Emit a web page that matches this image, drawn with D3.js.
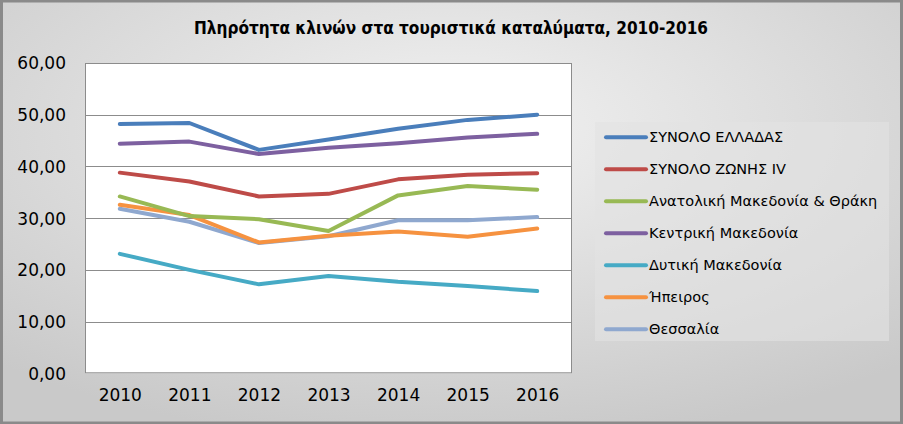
<!DOCTYPE html>
<html><head><meta charset="utf-8">
<script src="https://cdn.jsdelivr.net/npm/d3@7"></script>
<style>html,body{margin:0;padding:0;background:#fff}svg{display:block}</style>
</head><body>
<script>
const years = ["2010","2011","2012","2013","2014","2015","2016"];
const seriesNames = ["ΣΥΝΟΛΟ ΕΛΛΑΔΑΣ","ΣΥΝΟΛΟ ΖΩΝΗΣ IV","Ανατολική Μακεδονία & Θράκη","Κεντρική Μακεδονία","Δυτική Μακεδονία","Ήπειρος","Θεσσαλία"];
const greece   = [48.2, 48.4, 43.2, 45.2, 47.3, 49.0, 50.0];
const zoneIV   = [38.8, 37.1, 34.2, 34.7, 37.5, 38.4, 38.7];
const eastMac  = [34.2, 30.4, 29.8, 27.5, 34.4, 36.2, 35.5];
const centMac  = [44.4, 44.8, 42.4, 43.6, 44.5, 45.6, 46.3];
const westMac  = [23.1, 20.0, 17.2, 18.8, 17.7, 16.9, 15.9];
const epirus   = [32.6, 30.6, 25.3, 26.6, 27.4, 26.4, 28.0];
const thessaly = [31.8, 29.3, 25.2, 26.5, 29.6, 29.6, 30.2];
const yTicks = [0, 10, 20, 30, 40, 50, 60];
const title = "Πληρότητα κλινών στα τουριστικά καταλύματα, 2010-2016";

const seriesValues = [greece, zoneIV, eastMac, centMac, westMac, epirus, thessaly];
const colors = ["#4A7EBB","#BE4B48","#98B954","#7D60A0","#46AAC5","#F69240","#8FA8CF"];
// draw order (later on top)
const drawOrder = [4, 6, 5, 2, 1, 3, 0];

const W = 903, H = 424;
const svg = d3.select("body").append("svg").attr("width", W).attr("height", H);
const defs = svg.append("defs");
const g = defs.append("radialGradient").attr("id","bg").attr("cx","50%").attr("cy","30%").attr("r","75%");
g.append("stop").attr("offset","0%").attr("stop-color","#f2f2f2");
g.append("stop").attr("offset","100%").attr("stop-color","#c9c9c9");

svg.append("rect").attr("x",0).attr("y",0).attr("width",W).attr("height",H).attr("fill","url(#bg)");
svg.append("rect").attr("x",1.5).attr("y",1).attr("width",W-3).attr("height",H-2)
  .attr("fill","none").attr("stroke","#8a8a8a").attr("stroke-width",3);

svg.append("text").attr("x", 451).attr("y", 34).attr("text-anchor","middle")
  .attr("font-family","'DejaVu Sans Condensed','DejaVu Sans',sans-serif")
  .attr("font-weight","bold").attr("font-size",18).attr("fill","#000")
  .attr("textLength",514).attr("lengthAdjust","spacingAndGlyphs").text(title);

const plot = {left: 85, right: 572, top: 63, bottom: 373.3};
const x = d3.scalePoint().domain(years).range([plot.left, plot.right]).padding(0.5);
const y = d3.scaleLinear().domain([0, 60]).range([plot.bottom, plot.top]);

svg.append("rect").attr("x",plot.left).attr("y",plot.top).attr("width",plot.right-plot.left)
  .attr("height",plot.bottom-plot.top).attr("fill","#fff");

const grid = svg.append("g");
grid.selectAll("line").data(yTicks.filter(d => d > 0 && d < 60)).join("line")
  .attr("x1",plot.left).attr("x2",plot.right)
  .attr("y1",d => Math.round(y(d))+0.5).attr("y2",d => Math.round(y(d))+0.5)
  .attr("stroke","#8c8c8c").attr("stroke-width",1);

svg.append("rect").attr("x",plot.left+0.5).attr("y",plot.top+0.5).attr("width",plot.right-plot.left-1)
  .attr("height",plot.bottom-plot.top-1).attr("fill","none").attr("stroke","#8c8c8c").attr("stroke-width",1);

// Y axis
const yAxis = d3.axisLeft(y).tickValues(yTicks).tickSize(0).tickPadding(0)
  .tickFormat(d => d3.format(".2f")(d).replace(".", ","));
const ya = svg.append("g").attr("transform",`translate(${plot.left-19},0)`).call(yAxis);
ya.select(".domain").remove();
ya.selectAll("text").attr("font-family","'DejaVu Sans',sans-serif").attr("font-size",17)
  .attr("fill","#000").attr("dy","0.35em");

// X axis
const xAxis = d3.axisBottom(x).tickSize(0).tickPadding(0);
const xa = svg.append("g").attr("transform",`translate(0,${plot.bottom+16})`).call(xAxis);
xa.select(".domain").remove();
xa.selectAll("text").attr("font-family","'DejaVu Sans',sans-serif").attr("font-size",17)
  .attr("fill","#000").attr("dy","0.71em");

// Lines
const line = d3.line().x((d,i) => x(years[i])).y(d => y(d));
const lines = svg.append("g");
drawOrder.forEach(k => {
  lines.append("path").attr("d", line(seriesValues[k])).attr("fill","none")
    .attr("stroke", colors[k]).attr("stroke-width",4)
    .attr("stroke-linejoin","round").attr("stroke-linecap","round");
});

// Legend
const leg = svg.append("g");
leg.append("rect").attr("x",595).attr("y",122).attr("width",294).attr("height",219)
  .attr("fill","#e2e2e2").attr("fill-opacity",0.6);
seriesNames.forEach((name, i) => {
  const yy = 137.3 + i * 32;
  leg.append("line").attr("x1",606).attr("x2",646).attr("y1",yy).attr("y2",yy)
    .attr("stroke",colors[i]).attr("stroke-width",4).attr("stroke-linecap","round");
  leg.append("text").attr("x",649).attr("y",yy).attr("dy","0.35em")
    .attr("font-family","'DejaVu Sans',sans-serif").attr("font-size",14.5).attr("fill","#000").text(name);
});
</script>
</body></html>
